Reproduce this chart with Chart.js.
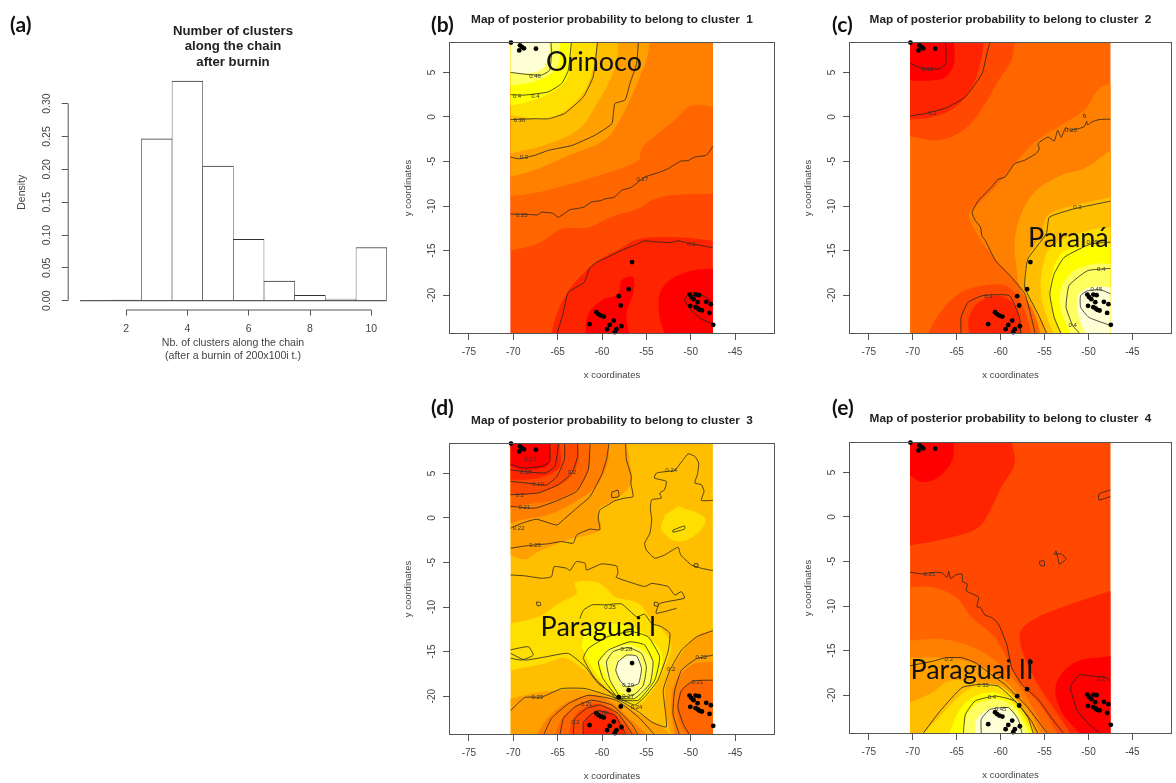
<!DOCTYPE html>
<html>
<head>
<meta charset="utf-8">
<title>Posterior probability maps</title>
<script src="https://cdn.jsdelivr.net/npm/chart.js@4/dist/chart.umd.js"></script>
<style>
  html, body { margin: 0; background: #fff; }
  body { position: relative; width: 1176px; height: 783px; overflow: hidden; }
  canvas { position: absolute; filter: blur(0.35px); }
  .panel-tag { position: absolute; font: bold 21px Lato, sans-serif; color: #111; line-height: 24px; }
</style>
</head>
<body>
<canvas id="histChart" width="400" height="365" style="left:0;top:0"></canvas>
<canvas id="mapB" width="379" height="378" style="left:400px;top:6px"></canvas>
<canvas id="mapC" width="376" height="378" style="left:800px;top:6px"></canvas>
<canvas id="mapD" width="379" height="378" style="left:400px;top:407px"></canvas>
<canvas id="mapE" width="376" height="378" style="left:800px;top:406px"></canvas>
<span class="panel-tag" style="left:10px;top:12px">(a)</span>
<span class="panel-tag" style="left:431px;top:12px">(b)</span>
<span class="panel-tag" style="left:832px;top:12px">(c)</span>
<span class="panel-tag" style="left:431px;top:395px">(d)</span>
<span class="panel-tag" style="left:832px;top:395px">(e)</span>

<script>
// histogram
const histClusters = [1, 2, 3, 4, 5, 6, 7, 8, 9, 10];
const histDensity = [0, 0.001, 0.2465, 0.3345, 0.205, 0.0934, 0.03, 0.008, 0.0025, 0.081];
const histXTicks = [2, 4, 6, 8, 10];
const histYTicks = [0, 0.05, 0.1, 0.15, 0.2, 0.25, 0.3];

// sampling sites, same on all four maps
const siteLon = [-70.26, -69.25, -68.8, -69.03, -69.33, -67.45, -56.61, -56.99, -58.11, -57.89, -60.63, -60.4, -60.14, -59.8, -61.41, -58.68, -59.13, -59.43, -58.38, -57.81, -58.56, -50.13, -49.94, -49.68, -49.45, -49.08, -49.23, -50.05, -49.45, -49.19, -49, -48.74, -48.25, -47.73, -47.88, -47.46];
const siteLat = [8.34, 8.04, 7.7, 7.85, 7.47, 7.66, -16.29, -19.33, -20.11, -21.16, -21.91, -22.14, -22.29, -22.4, -23.26, -22.85, -23.34, -23.82, -23.82, -23.49, -24.16, -19.93, -20.22, -20.45, -19.93, -20, -20.79, -21.2, -21.35, -21.5, -21.65, -21.72, -20.75, -21.01, -21.99, -23.33];

const mapXTicks = [-75, -70, -65, -60, -55, -50, -45];
const mapYTicks = [-20, -15, -10, -5, 0, 5];
const heatColors = ["#FF0000", "#FF2400", "#FF4900", "#FF6600", "#FF8000", "#FF9F00", "#FFBF00", "#FFDF00", "#FFFF00", "#FFFF60", "#FFFFD5"];

// edges of the interpolated grid
const W = -70.3, E = -47.5, N = 8.41, S = -24.4;

// cluster 1
const bFillLevels = [1, 0, 0, 2, 3, 4, 5, 6, 7, 8, 9, 10];
const bFills = [
  [W,N, E,N, E,S, W,S],
  [E,-17.05, -49.9,-17.25, -52.2,-18.2, -53.5,-19.85, -53.5,-22.5, -52.9,S, E,S],
  [-61.9,S, -61.55,-22.1, -60.05,-20.6, -58.2,-19.85, -57.8,-18.35, -56.5,-18, -56.5,-19.85, -57.25,-22.1, -56.9,S],
  [W,N, E,N, E,-13.9, -51.4,-13.5, -55.9,-13.7, -57.8,-14.7, -60.05,-15.9, -61.75,-17.2, -63.8,-19.5, -65.1,-22.1, -65.7,S, W,S],
  [W,N, E,N, E,-8.6, -52.2,-8.8, -54.4,-9.35, -55.9,-10.3, -58.9,-11.2, -61.55,-12.4, -64.55,-12.55, -67.2,-14.2, W,-15],
  [W,N, E,N, E,1.13, -49.9,1.3, -51.8,-0.37, -54.4,-2.43, -55.55,-3.56, -55.9,-4.87, -59.7,-6.37, -65.3,-8, -68,-8.6, W,-8.9],
  [W,N, -54.6,N, -55,6.4, -55.9,4.13, -56.7,2.25, -58,-0.37, -59.7,-2.6, -64.2,-4.5, -67.2,-5.8, W,-6.75],
  [W,N, -58.2,N, -58.4,6, -59.3,3.75, -60.8,1.13, -62.5,-1.3, -66,-3, W,-4.1],
  [W,N, -60.6,N, -61,5.6, -61.75,3.4, -63.4,1.3, -66,-0.2, W,0.2],
  [W,N, -63.4,N, -63.6,5.6, -64.2,3.9, -66,2.6, -68.3,1.7, W,1.3],
  [W,N, -64.75,N, -64.9,6, -65.9,4.7, -67.9,3.9, W,3.5],
  [W,N, -65.9,N, -66.05,6.4, -67,5.25, -68.7,4.9, W,5.07],
];
const bContours = [
  [W,5, -68.7,4.8, -66.8,4.7, -65.9,5.25, -65.7,7.1, -65.75,N],
  [W,2.5, -68.8,2.45, -66.1,2.8, -64.55,3.75, -63.8,5.25, -63.45,N],
  [W,-0.3, -67.55,-0.2, -66.05,-0.2, -64.2,0.4, -62.1,2.25, -61,4.5, -60.5,N],
  [W,-4.5, -69.4,-4.7, -67.55,-4.3, -66.05,-3.75, -63.4,-3.2, -60.8,-2.05, -58.9,-0.75, -58.55,1.5, -57.4,1.9, -56.85,3.75, -56.1,6, -55.9,N],
  [E,-3.3, -48.05,-4.1, -48.4,-4.35, -49.55,-4.5, -50.3,-4.9, -51.1,-4.95, -52.55,-5.8, -53.5,-6.2, -55.2,-6.75, -56.7,-7.9, -57.8,-8.24, -58.6,-9, -59.7,-9.2, -60.2,-9.4, -61.2,-9.55, -62,-10.1, -62.9,-10.3, -63.6,-10.4, -64.9,-11.25, -65.6,-10.8, -66.8,-10.7, -67.3,-11, -68.1,-10.95, W,-10.9],
  [E,-14.7, -48.9,-14.4, -49.9,-14.25, -50.6,-14.1, -51.4,-13.9, -52.3,-14.1, -53.3,-14.05, -54.2,-14, -55.2,-13.9, -56.1,-14.3, -57.4,-14.8, -58.5,-15.3, -59.7,-15.9, -60.6,-16.3, -61.4,-17, -62,-18.55, -63.8,-19.7, -64.4,-22.1, -65.1,S],
  [E,-23.2, -48.8,-22.7, -49.9,-21.75, -50.7,-20.6, -50.3,-19.9, -49.4,-19.7, -48.05,-20.4, E,-21.2],
];
const bLabelText = ["0.46", "0.4", "0.4", "0.36", "0.3", "0.27", "0.25", "0.2"];
const bLabelLon = [-67.55, -69.6, -67.5, -69.3, -68.8, -55.45, -69.05, -49.95];
const bLabelLat = [4.6, 2.35, 2.35, -0.4, -4.55, -7, -11.05, -14.3];

// cluster 2
const cFillLevels = [3, 2, 1, 0, 2, 1, 4, 5, 6, 7, 8, 9, 10];
const cFills = [
  [W,N, E,N, E,S, W,S],
  [W,N, -58.4,N, -58.75,6.4, -60.25,4.1, -61.75,1.5, -64,-1.3, -67,-2.6, W,-2.2],
  [W,N, -61.9,N, -62.3,6, -63.25,3.4, -65.1,1.15, -67.75,0, W,-0.3],
  [W,N, -65.3,N, -65.3,6, -66.25,4.5, -67.75,4.1, W,4.1],
  [-68.3,S, -67,-22.1, -64.75,-19.85, -61.75,-18.9, -59.1,-19.1, -57.25,-21.75, -56.5,S],
  [-63.6,S, -63.6,-22.5, -62.5,-20.8, -60.25,-20.05, -58.4,-21.2, -57.55,S],
  [E,3.75, -48.8,3.2, -50.5,0.75, -53.1,-0.9, -56.1,-2.8, -58.4,-5.25, -60.6,-7.9, -62.5,-9.75, -63.6,-10.85, -62.9,-12.75, -61.4,-15, -58.75,-18, -57.25,-19.9, -55.9,-22.5, -55.55,S, E,S],
  [E,-3.75, -50.5,-5.8, -53.1,-6.55, -56.1,-8.4, -57.8,-11.25, -58.4,-14.25, -58.2,-16.85, -57.8,-19.1, -56.3,-21.75, -55.4,S, E,S],
  [E,-9, -51.6,-9.9, -54.6,-11, -55.4,-13.1, -56.9,-15.75, -57.25,-19.1, -55.75,-22.1, -54.6,S, E,S],
  [E,-12.4, -50.1,-12.75, -54.25,-14.6, -55.2,-16.85, -55.4,-19.9, -54.6,-22.85, -53.9,S, E,S],
  [E,-14.25, -50.9,-14.6, -53.1,-15.35, -54.25,-18, -54.4,-20.6, -53.5,-23.25, -52.9,S, E,S],
  [E,-16.5, -49.4,-16.5, -51.6,-17.25, -53.1,-19.1, -53.1,-21.75, -52,S, E,S],
  [E,-19.1, -49.75,-19.1, -51.1,-19.9, -51.25,-21.75, -50.5,-24, -50.1,S, E,S],
];
const cContours = [
  [W,6, -68.9,5.45, -67,5.4, -66.25,6, -66.25,N],
  [W,0.1, -68.5,0.4, -66.25,1, -64,2.25, -62.1,4.9, -61.55,7.15, -61.2,N],
  [E,-0.25, -48.8,-0.3, -49.6,-0.55, -50.1,-0.9, -50.2,-0.5, -50.5,-1.1, -52,-1.5, -52.6,-1.2, -53.1,-2.3, -53.5,-1.5, -53.9,-2.7, -54.6,-2.25, -55.75,-3, -55.6,-3.6, -55.95,-4.1, -57.25,-4.85, -58.4,-5.25, -59.5,-6.75, -60.3,-7, -61,-7.85, -62.5,-9.35, -63.25,-10.7, -62.9,-11.6, -62.3,-12.35, -62.1,-13.4, -61.75,-13.85, -60.6,-16.1, -58.75,-18, -57.25,-19.85, -56.5,-22.5, -56.05,S],
  [-50.5,0.35, -50.3,0.1, -50.4,-0.1, -50.6,0.1, -50.5,0.35],
  [E,-9.45, -51.6,-10.3, -54.45,-11.25, -54.8,-13.1, -56.9,-15.95, -57.25,-19.1, -55.75,-22.1, -54.7,S],
  [E,-14.05, -49.75,-14.25, -52.75,-15.75, -53.9,-17.6, -54.4,-19.85, -53.9,-22.5, -53.1,S],
  [E,-17, -50.1,-17.25, -52.2,-18.9, -52.55,-21.35, -51.8,-23.4, -50.9,S],
  [E,-19.85, -48.6,-19.4, -50.1,-19.5, -50.9,-20.05, -50.9,-21.35, -49.95,-22.5, E,-23.4],
  [-64.5,S, -64.5,-22.5, -63.7,-20.8, -62,-20.05, -59,-20.05, -57.85,-22.5, -57.7,S],
];
const cLabelText = ["0.15", "0.2", "0.25", "0.3", "0.35", "0.4", "0.45", "0.4", "0.2"];
const cLabelLon = [-68.3, -67.75, -52, -51.25, -49.55, -48.55, -49.1, -51.8, -61.4];
const cLabelLat = [5.35, 0.45, -1.5, -10.2, -14.1, -17.05, -19.4, -23.4, -20.1];

// cluster 3
const dFillLevels = [6, 5, 4, 3, 2, 1, 0, 7, 7, 8, 9, 10, 5, 4, 3, 2, 1, 5, 4, 3];
const dFills = [
  [W,N, E,N, E,S, W,S],
  [W,N, -57.25,N, -56.85,6.15, -56.7,3.9, -58.55,2, -60.4,0.9, -60.2,-1.3, -63.8,-2.45, -67.2,-3.8, -68.7,-4.65, W,-4.15],
  [W,N, -59.3,N, -59.3,6.5, -60.4,3.9, -62.7,2, -66.05,0.35, -69,-0.2, W,-0.6],
  [W,N, -61.55,N, -61.35,6.15, -62.5,3.55, -65.3,2.05, -68.7,1.5, W,1.1],
  [W,N, -62.7,N, -62.7,6.15, -63.8,4.3, -66.05,3.15, -68.7,2.6, W,2.6],
  [W,N, -64.75,N, -64.75,5.8, -66.05,4.85, -68.3,4.3, W,4.3],
  [W,N, -65.9,N, -65.9,6.15, -66.8,5.6, -69,5.4, W,5.8],
  [-51.4,1.3, -48.4,0, -49.2,-1.7, -51.4,-2.65, -53.3,-1.3, -52.9,0.35],
  [W,-11.85, -67.2,-11.1, -64.55,-9.4, -62.85,-8.45, -63.05,-7.3, -60.8,-7.15, -59.5,-7.9, -58.55,-8.85, -55.9,-9.6, -54.4,-11.45, -52.9,-12.95, -52.2,-14.45, -52.9,-16.7, -54.05,-18.95, -55.9,-21, -57.8,-20.65, -59.7,-18.95, -61.9,-17.1, -64.2,-15.75, -66.4,-16.3, W,-17.1],
  [-61.9,-12.2, -59.7,-11.85, -56.7,-12.2, -54.8,-13.35, -53.3,-15.2, -53.5,-17.45, -55.2,-20.1, -57.05,-20.45, -59.3,-18.95, -61.2,-16.7, -62.3,-14.45],
  [-59.3,-14.65, -56.7,-14.25, -54.4,-15.95, -54.4,-18.2, -55.9,-20.1, -57.4,-19.9, -59.3,-18.2, -60.25,-16.15],
  [-58.2,-15.95, -56.1,-15.4, -55.55,-17.1, -56.1,-18.8, -57.8,-18.6, -58.4,-17.1],
  [W,-20.3, -67.9,-19.7, -64.9,-19.35, -61.9,-19.35, -58.9,-20.3, -55.9,-22, -53.3,-23.45, -52.2,S, W,S],
  [-67.4,S, -66.05,-22.35, -64.2,-20.85, -61.55,-19.9, -59.3,-20.45, -56.7,-22.7, -54.8,S],
  [-65.3,S, -64.55,-22.5, -63.05,-21.2, -61.2,-20.45, -59.3,-21, -57.4,-22.7, -56.1,S],
  [-63.8,S, -63.25,-22.5, -61.9,-21.2, -60.6,-20.85, -58.9,-21.6, -57.25,-23.45, -56.7,S],
  [-62.1,S, -61.9,-22.7, -60.4,-21.6, -58.55,-22.15, -57.4,S],
  [E,-12.6, -49.2,-13.15, -51.05,-15.2, -52.55,-17.85, -52.9,-20.45, -52.55,-23.1, -52.2,S, E,S],
  [E,-16.15, -49.9,-16.5, -51.8,-18.6, -52.2,-21.2, -51.8,S, E,S],
  [E,-18.2, -49.9,-18.4, -51.25,-19.7, -51.45,-22.3, -50.5,S, E,S],
];
const dContours = [
  [-65.9,N, -65.9,6.35, -66.8,5.8, -68.9,5.6, W,6],
  [W,5.4, -68.7,5.2, -66.4,5.05, -65.3,5.8, -64.9,N],
  [W,4.1, -68.3,3.9, -66.25,3.7, -65.1,4.65, -64.25,6.55, -64.2,N],
  [W,2.6, -67.2,2.8, -64.9,3.75, -63.4,5.05, -62.75,6.9, -62.75,N],
  [W,1.3, -67.55,1.1, -65.3,1.85, -62.85,3, -61.55,5.4, -61.35,N],
  [W,-1.15, -69.05,-0.6, -67.4,-0.15, -65.1,-0.8, -64.35,-0.2, -62.85,1.1, -61.35,2.4, -60.05,4.85, -59.5,6.55, -59.2,N],
  [W,-3.4, -69.05,-3.2, -67.55,-3.02, -66.05,-2.9, -64.55,-2.65, -63.25,-2.84, -62.85,-1.9, -61.35,-1.26, -60.25,-1.33, -60.43,-0.02, -60.25,0.9, -59.3,1.48, -58.55,1.93, -57.4,2.23, -56.5,2.4, -56.75,3.9, -56.7,4.66, -57.25,6.54, -57.35,N],
  [-58.9,2.9, -58.2,3.1, -58.1,2.4, -58.9,2.3, -58.9,2.9],
  [E,1.97, -48.8,1.97, -48.5,2.98, -48.8,3.73, -49.55,3.92, -49.25,4.85, -49.1,6.17, -49.55,6.92, -50.3,7.2, -50.85,6.54, -51.8,5.34, -52.55,5.23, -53.85,5.04, -54.1,4.48, -52.75,4.1, -52.95,3.16, -53.5,2.79, -53.3,2.23, -54.4,2.04, -54.55,1.1, -54.4,-0.21, -54.6,-1.71, -55.2,-2.84, -55,-3.6, -54.05,-4.52, -52.93,-4.15, -51.43,-3.29, -51.13,-4.15, -49.93,-5.27, -48.8,-5.65, E,-5.91],
  [-52,-1.35, -50.7,-0.9, -50.7,-1.25, -52,-1.6, -52,-1.35],
  [W,-6.4, -68.7,-6.5, -66.8,-6.77, -65.7,-6.6, -65.4,-5.46, -64,-5.65, -63.6,-5.9, -62.9,-4.9, -61.9,-5.1, -61.75,-5.85, -60.05,-5.16, -58.35,-5.4, -58.2,-6.2, -58.4,-6.66, -57.05,-7.15, -55.2,-7.7, -54.4,-7.35, -52.55,-7.7, -51.8,-8.65, -51.05,-8.27, -50.7,-9, -53.5,-9.6, -53.9,-10.7, -51.6,-10.15],
  [-62.5,-11.3, -62.1,-10.35, -61.1,-9.75, -59.6,-9.75, -57.8,-9.65, -56.1,-11.1, -55.2,-10.8, -54.4,-11.85, -53.3,-12.2, -52.35,-12.95, -52.55,-15, -53.7,-18.2, -55.2,-20.1, -56.3,-21, -58,-20.25, -60.4,-18.6, -61.9,-16.7, -63.8,-15.2, -66.4,-15.6, -68.7,-15.95, W,-15.2],
  [W,-14.8, -68.3,-14.45, -67.75,-15.4, -69.05,-15.95, W,-15.75],
  [-67.4,-9.45, -67,-9.45, -66.9,-9.8, -67.3,-9.85, -67.4,-9.45],
  [-54.1,-9.45, -53.7,-9.5, -53.7,-9.9, -54.1,-9.85, -54.1,-9.45],
  [-49.6,-5.15, -49.2,-5.15, -49.2,-5.5, -49.6,-5.5, -49.6,-5.15],
  [-58.4,-20.25, -60.8,-18, -62.1,-15.75, -61.55,-14.65, -59.3,-13.3, -56.7,-12.75, -54.8,-13.35, -53.5,-15.6, -54.05,-18.2, -55.9,-20.45, -57.8,-20.45, -58.4,-20.25],
  [-58.2,-20.25, -59.9,-18, -60.4,-16.15, -59.3,-14.85, -56.85,-13.9, -55.2,-14.25, -54.25,-16.15, -54.6,-18.6, -56.3,-20.25, -58.2,-20.25],
  [-58,-20.1, -59.1,-18.2, -59.5,-16.15, -58.75,-15, -57.05,-14.55, -55.55,-15.2, -55,-16.7, -55.35,-18.8, -56.5,-19.9, -58,-20.1],
  [-58.2,-16.15, -57.25,-15.4, -56.1,-15.5, -55.55,-16.9, -55.9,-18.6, -57.25,-18.95, -58,-18.2, -58.45,-17.1, -58.2,-16.15],
  [W,-21.6, -68.7,-20.15, -66.8,-20.1, -64.55,-19.15, -61.9,-19.15, -58.4,-20.25, -55.9,-21.75, -54.4,-22.9, -52.75,-23.45, -53.1,-19.35, -52.35,-17.1, -51.05,-14.85, -49.35,-13.35, E,-12.65],
  [-66.6,S, -65.7,-22.5, -63.8,-20.85, -61.55,-19.9, -58.4,-20.45, -55.9,-22.35, -54,S],
  [-64.75,S, -64.35,-22.5, -63.05,-21.2, -61.2,-20.45, -58.9,-21, -56.7,-23.1, -55.9,S],
  [-63.25,S, -63.05,-22.5, -61.75,-21.4, -60.25,-21, -58.2,-21.95, -56.5,S],
  [-62.1,S, -62.1,-22.9, -60.6,-21.65, -58.55,-22.15, -57.25,S],
  [E,-15.4, -49.35,-15.8, -51.05,-17.1, -51.8,-19.35, -52,-22, -51.25,S],
  [E,-18.2, -49.75,-18.3, -51.05,-19.35, -51.45,-21.2, -50.85,-23.1, -50.1,S],
];
const dLabelText = ["0.17", "0.18", "0.19", "0.2", "0.2", "0.21", "0.22", "0.23", "0.24", "0.25", "0.28", "0.29", "0.27", "0.24", "0.23", "0.21", "0.18", "0.2", "0.22", "0.21", "0.2"];
const dLabelLon = [-68.1, -68.6, -67.2, -69.25, -63.4, -68.75, -69.4, -67.55, -52.2, -59.1, -57.25, -57.05, -57.05, -56.1, -67.3, -61.75, -60.05, -63, -48.8, -49.25, -52.2];
const dLabelLat = [6.6, 5.15, 3.75, 2.5, 5.15, 1.2, -1.15, -3.05, 5.35, -10.05, -14.75, -18.8, -20, -21.3, -20.15, -20.9, -21.9, -22.9, -15.6, -18.45, -17];

// cluster 4
const eFillLevels = [2, 1, 0, 1, 0, 3, 4, 5, 6, 7, 8, 9, 10];
const eFills = [
  [W,N, E,N, E,S, W,S],
  [W,N, -58.75,N, -58.4,6, -59.9,3.35, -61,1.1, -62.5,-1.15, -66.25,-2.45, W,-3.2],
  [W,N, -65.3,N, -65.5,6.35, -67,4.5, -68.9,3.9, W,4.65],
  [E,-8.3, -53.1,-10.15, -56.5,-11.65, -57.8,-13.15, -57.25,-15.8, -55.75,-18.8, -53.5,-22.15, -52,S, E,S],
  [E,-15.6, -51.6,-16.35, -53.7,-18.8, -53.1,-21.8, -50.9,S, E,S],
  [W,-7.9, -67.75,-7.9, -65.1,-9, -63.25,-11.3, -61,-13.15, -59.5,-15.4, -58.4,-17.65, -56.9,-19.5, -55,-21.8, -53.5,S, W,S],
  [W,-13.9, -67,-13.7, -64,-14.3, -61,-15.8, -58.75,-18, -57.25,-19.9, -55.75,-22.5, -54.55,S, W,S],
  [W,-15.8, -66.6,-15.8, -63.25,-16.35, -60.6,-17.65, -58.4,-19.5, -56.5,-22.15, -55.4,S, W,S],
  [W,-20.8, -67.75,-19.7, -65.9,-18.4, -62.5,-18.6, -59.9,-19.5, -57.6,-21.8, -56,S, W,S],
  [-68.9,S, -67,-22.5, -65.1,-20.5, -63.25,-19.15, -60.6,-18.8, -58.4,-20.25, -56.7,-22.9, -56.1,S],
  [-65.9,S, -64.75,-21.8, -63.25,-20.25, -60.6,-19.7, -58.4,-21, -57.1,-22.9, -56.3,S],
  [-64.4,S, -63.8,-22.15, -62.5,-20.85, -60.25,-20.45, -58.4,-21.4, -57.25,-23.3, -56.7,S],
  [-62.9,S, -62.7,-22.7, -61.4,-21.6, -59.5,-21.4, -58,-22.7, -57.4,S],
];
const eContours = [
  [W,-6.2, -68.9,-6.4, -67.4,-6.2, -66.6,-6.3, -66.1,-6.8, -65.9,-6.1, -65.7,-6.9, -65.1,-6.5, -64.4,-6.4, -64.3,-7.3, -63.8,-7.5, -63.9,-8.3, -62.5,-9, -62.7,-10.1, -62.3,-10.15, -61.8,-11, -61,-11.3, -60.25,-12, -59.3,-14.3, -58.75,-16.9, -57.6,-18.8, -55.75,-20.45, -54.25,-22.5, -52.75,S],
  [E,3, -48.8,2.6, -48.8,1.9, E,2.3],
  [-53.7,-3.8, -53.9,-4.2, -53.1,-4.15, -52.55,-4.7, -53.3,-5.3, -53.5,-4.5, -53.7,-3.8],
  [-55.6,-5, -55.1,-4.9, -55,-5.5, -55.5,-5.4, -55.6,-5],
  [W,-16.7, -67.75,-16.2, -66.25,-15.8, -64.4,-15.8, -62.9,-16.35, -60.65,-18, -59.5,-18.8, -56.9,-21.4, -54.6,S],
  [-68.9,S, -66.9,-21.8, -64.4,-19.15, -62.5,-18.8, -60.25,-19, -58,-21, -56.5,-22.9, -55.7,S],
  [-64.25,S, -64,-22.15, -62.9,-20.65, -60.6,-20.1, -58.4,-20.65, -56.9,-22.5, -56.25,S],
  [-62.2,S, -62.2,-22.7, -61.2,-21.6, -59.1,-21.4, -58,-22.7, -57.55,S],
  [-48.5,S, -49.75,-23.45, -51.25,-21.8, -52,-19.5, -52,-18.95, -51.05,-17.7, -49.75,-17.85, -48.05,-18, E,-18.4],
];
const eLabelText = ["0.25", "0.3", "0.35", "0.4", "0.45", "0.2"];
const eLabelLon = [-68.1, -65.9, -62, -61, -60, -48.55];
const eLabelLat = [-6.4, -16, -18.85, -20.3, -21.6, -18.2];

const AXIS_COLOR = "#555";
const TEXT_COLOR = "#444";
const MAP_TITLE_SIZE = 11.8;
Chart.defaults.font.family = '"Liberation Sans", Arial, sans-serif';
Chart.defaults.font.size = 10;
Chart.defaults.color = TEXT_COLOR;
Chart.defaults.animation = false;

function toPoints(flat) {
  const points = [];
  for (let i = 0; i < flat.length; i += 2) {
    points.push({ x: flat[i], y: flat[i + 1] });
  }
  return points;
}

// a repeated point stops the spline from bulging past the grid edges
function toShapePoints(flat) {
  const points = [];
  for (const p of toPoints(flat)) {
    points.push(p);
    if (p.x === W || p.x === E || p.y === N || p.y === S) points.push({ ...p });
  }
  return points;
}

function fixedTicks(values) {
  return (scale) => {
    scale.ticks = values.map((value) => ({ value }));
  };
}

function makeMap(id, clusterNo, rightPad, titleTop, map) {
  const datasets = [];

  map.fills.forEach((shape, i) => {
    datasets.push({
      data: toShapePoints(shape),
      showLine: true,
      fill: "shape",
      backgroundColor: heatColors[map.levels[i]],
      borderWidth: 0,
      pointRadius: 0,
      tension: 0.35,
    });
  });

  for (const contour of map.contours) {
    datasets.push({
      data: toPoints(contour),
      showLine: true,
      fill: false,
      borderColor: "#222",
      borderWidth: 0.8,
      pointRadius: 0,
      tension: 0.15,
    });
  }

  datasets.push({
    data: siteLon.map((lon, i) => ({ x: lon, y: siteLat[i] })),
    backgroundColor: "#000",
    pointRadius: 2.4,
    pointBorderWidth: 0,
    clip: false,
  });

  // chart.js paints the first dataset last
  datasets.reverse();

  const mapText = {
    id: "mapText",
    afterDatasetsDraw(chart) {
      const { ctx, scales } = chart;
      ctx.save();
      ctx.textAlign = "center";
      ctx.textBaseline = "middle";
      ctx.fillStyle = "#333";
      ctx.font = '6px "Liberation Sans"';
      map.labelText.forEach((text, i) => {
        ctx.fillText(text, scales.x.getPixelForValue(map.labelLon[i]), scales.y.getPixelForValue(map.labelLat[i]));
      });
      ctx.fillStyle = "#111";
      ctx.font = "27px Lato";
      ctx.fillText(map.region, scales.x.getPixelForValue(map.regionLon), scales.y.getPixelForValue(map.regionLat));
      ctx.restore();
    },
  };

  const plotBox = {
    id: "plotBox",
    afterDraw(chart) {
      const { ctx, chartArea: a } = chart;
      ctx.save();
      ctx.strokeStyle = AXIS_COLOR;
      ctx.lineWidth = 1;
      ctx.strokeRect(a.left + 0.5, a.top + 0.5, a.width - 1, a.height - 1);
      ctx.restore();
    },
  };

  return new Chart(document.getElementById(id), {
    type: "scatter",
    data: { datasets },
    plugins: [mapText, plotBox],
    options: {
      responsive: false,
      layout: { padding: { right: rightPad } },
      plugins: {
        legend: { display: false },
        tooltip: { enabled: false },
        title: {
          display: true,
          fullSize: false,
          text: `Map of posterior probability to belong to cluster  ${clusterNo}`,
          color: "#222",
          font: { size: MAP_TITLE_SIZE, weight: "bold", lineHeight: 1.2 },
          padding: { top: titleTop, bottom: 36 - MAP_TITLE_SIZE * 1.2 - titleTop },
        },
      },
      scales: {
        x: {
          type: "linear",
          min: -77.25,
          max: -40.5,
          afterFit: (scale) => { scale.height = 50; },
          afterBuildTicks: fixedTicks(mapXTicks),
          grid: { drawOnChartArea: false, tickLength: 6, color: AXIS_COLOR },
          border: { display: false },
          ticks: { autoSkip: false, maxRotation: 0, padding: 6, callback: (v) => String(v) },
          title: { display: true, text: "x coordinates", font: { size: 9.5 }, padding: { top: 0, bottom: 2.5 } },
        },
        y: {
          type: "linear",
          min: -24.36,
          max: 8.41,
          afterFit: (scale) => { scale.width = 49; },
          afterBuildTicks: fixedTicks(mapYTicks),
          grid: { drawOnChartArea: false, tickLength: 6, color: AXIS_COLOR },
          border: { display: false },
          ticks: { autoSkip: false, minRotation: 90, maxRotation: 90, crossAlign: "center", padding: 4, callback: (v) => String(v) },
          title: { display: true, text: "y coordinates", font: { size: 9.5 }, padding: { top: 3, bottom: 0 } },
        },
      },
    },
  });
}

// R style axis: the line runs only from the first tick to the last
const histAxes = {
  id: "histAxes",
  afterDraw(chart) {
    const { ctx, scales, chartArea: a } = chart;
    ctx.save();
    ctx.strokeStyle = AXIS_COLOR;
    ctx.lineWidth = 1;
    ctx.beginPath();
    ctx.moveTo(scales.x.getPixelForValue(histXTicks[0]), a.bottom + 0.5);
    ctx.lineTo(scales.x.getPixelForValue(histXTicks[histXTicks.length - 1]), a.bottom + 0.5);
    ctx.moveTo(a.left + 0.5, scales.y.getPixelForValue(histYTicks[0]));
    ctx.lineTo(a.left + 0.5, scales.y.getPixelForValue(histYTicks[histYTicks.length - 1]));
    ctx.stroke();
    ctx.restore();
  },
};

new Chart(document.getElementById("histChart"), {
  type: "bar",
  data: {
    datasets: [
      {
        type: "line",
        data: [{ x: 0.5, y: 0 }, { x: 10.5, y: 0 }],
        borderColor: "#333",
        borderWidth: 1,
        pointRadius: 0,
      },
      {
        data: histClusters.map((n, i) => ({ x: n, y: histDensity[i] })),
        backgroundColor: "#fff",
        borderColor: "#333",
        borderWidth: { top: 1, right: 0.6, bottom: 0, left: 0.6 },
        borderSkipped: false,
        barPercentage: 1,
        categoryPercentage: 1,
      },
    ],
  },
  plugins: [histAxes],
  options: {
    responsive: false,
    layout: { padding: { right: 1.7 } },
    plugins: {
      legend: { display: false },
      tooltip: { enabled: false },
      title: {
        display: true,
        fullSize: false,
        text: ["Number of clusters", "along the chain", "after burnin"],
        color: "#222",
        font: { size: 13.2, weight: "bold", lineHeight: 1.18 },
        padding: { top: 23.2, bottom: 5 },
      },
    },
    scales: {
      x: {
        type: "linear",
        offset: false,
        min: 0.097,
        max: 10.879,
        afterFit: (scale) => { scale.height = 55.5; },
        afterBuildTicks: fixedTicks(histXTicks),
        grid: { offset: false, drawOnChartArea: false, tickLength: 6, color: AXIS_COLOR },
        border: { display: false },
        ticks: { autoSkip: false, maxRotation: 0, padding: 7, font: { size: 10.5 }, callback: (v) => String(v) },
        title: {
          display: true,
          text: ["Nb. of clusters along the chain", "(after a burnin of 200x100i t.)"],
          font: { size: 10.6 },
          padding: { top: 0, bottom: 3 },
        },
      },
      y: {
        type: "linear",
        min: -0.0134,
        max: 0.3437,
        afterFit: (scale) => { scale.width = 67.7; },
        afterBuildTicks: fixedTicks(histYTicks),
        grid: { drawOnChartArea: false, tickLength: 6, color: AXIS_COLOR },
        border: { display: false },
        ticks: { autoSkip: false, minRotation: 90, maxRotation: 90, crossAlign: "center", padding: 4, font: { size: 10.5 }, callback: (v) => v.toFixed(2) },
        title: { display: true, text: "Density", font: { size: 10.5 }, padding: { top: 16, bottom: 0 } },
      },
    },
  },
});

makeMap("mapB", 1, 3, 6.4, { levels: bFillLevels, fills: bFills, contours: bContours, labelText: bLabelText, labelLon: bLabelLon, labelLat: bLabelLat, region: "Orinoco", regionLon: -60.9, regionLat: 6.1 });
makeMap("mapC", 2, 0, 6.4, { levels: cFillLevels, fills: cFills, contours: cContours, labelText: cLabelText, labelLon: cLabelLon, labelLat: cLabelLat, region: "Paraná", regionLon: -52.3, regionLat: -13.6 });
makeMap("mapD", 3, 3, 6.7, { levels: dFillLevels, fills: dFills, contours: dContours, labelText: dLabelText, labelLon: dLabelLon, labelLat: dLabelLat, region: "Paraguai I", regionLon: -60.4, regionLat: -12.3 });
makeMap("mapE", 4, 0, 5.4, { levels: eFillLevels, fills: eFills, contours: eContours, labelText: eLabelText, labelLon: eLabelLon, labelLat: eLabelLat, region: "Paraguai II", regionLon: -63.25, regionLat: -17.2 });
</script>
</body>
</html>
